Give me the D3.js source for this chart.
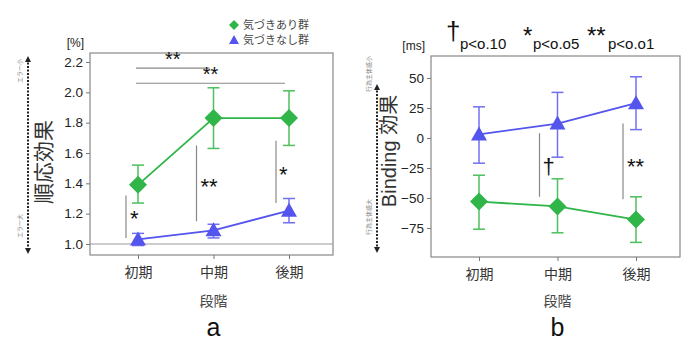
<!DOCTYPE html>
<html lang="ja">
<head>
  <meta charset="UTF-8">
  <title>順応効果 / Binding効果</title>
  <script src="https://d3js.org/d3.v7.min.js"></script>
  <style>
    * { margin: 0; padding: 0; box-sizing: border-box; }
    body { background: #fff; }
    text { font-family: "Liberation Sans", Arial, "Noto Sans CJK JP", sans-serif; }
    .jp { font-family: "Noto Sans CJK JP", sans-serif; }
  </style>
</head>
<body>
  <div id="chart"></div>
  <script>
    // data
    const stages = ["初期", "中期", "後期"];
    const groups = ["気づきあり群", "気づきなし群"];

    const adaptTicks = [1.0, 1.2, 1.4, 1.6, 1.8, 2.0, 2.2];
    const adaptAware = [1.39, 1.83, 1.83];
    const adaptAwareLo = [1.27, 1.63, 1.65];
    const adaptAwareHi = [1.52, 2.03, 2.01];
    const adaptUnaware = [1.03, 1.09, 1.22];
    const adaptUnawareLo = [0.99, 1.04, 1.14];
    const adaptUnawareHi = [1.07, 1.13, 1.30];

    const bindTicks = [-75, -50, -25, 0, 25, 50];
    const bindAware = [-53, -57, -68];
    const bindAwareLo = [-76, -79, -87];
    const bindAwareHi = [-31, -34, -49];
    const bindUnaware = [3, 12, 29];
    const bindUnawareLo = [-21, -16, 7];
    const bindUnawareHi = [26, 38, 51];

    const green = "#2fb548", greenBar = "#4cbf5e";
    const blue = "#5454ee", blueBar = "#7070f0";

    const svg = d3.select("#chart").append("svg")
      .attr("width", 700).attr("height", 350);

    svg.append("defs").append("marker")
      .attr("id", "arr")
      .attr("viewBox", "0 0 10 10")
      .attr("refX", 5).attr("refY", 5)
      .attr("markerWidth", 3).attr("markerHeight", 3)
      .attr("orient", "auto-start-reverse")
      .append("path")
      .attr("d", "M0,0 L10,5 L0,10 Z")
      .attr("fill", "#222");

    const diamond = "M0,-9 L9,0 L0,9 L-9,0 Z";
    const triangle = "M0,-8 L8,6 L-8,6 Z";

    function panel(cfg) {
      const g = svg.append("g");
      const x = d3.scalePoint().domain(stages).range([cfg.x0 + 48, cfg.x1 - 44]);
      const y = d3.scaleLinear().domain(cfg.domain).range(cfg.range);

      // frame
      g.append("rect")
        .attr("x", cfg.x0).attr("y", cfg.top)
        .attr("width", cfg.x1 - cfg.x0).attr("height", cfg.bottom - cfg.top)
        .attr("fill", "none").attr("stroke", "#888").attr("stroke-width", 1.2);

      const ya = g.append("g").attr("transform", `translate(${cfg.x0},0)`)
        .call(d3.axisLeft(y).tickValues(cfg.ticks).tickSize(4).tickFormat(cfg.fmt));
      ya.select(".domain").remove();
      ya.selectAll("line").attr("stroke", "#777");
      ya.selectAll("text").attr("font-size", 13.5).attr("fill", "#222")
        .style("font-family", "Liberation Sans, Arial, sans-serif");

      const xa = g.append("g").attr("transform", `translate(0,${cfg.bottom})`)
        .call(d3.axisBottom(x).tickSize(4).tickPadding(8));
      xa.select(".domain").remove();
      xa.selectAll("line").attr("stroke", "#777");
      xa.selectAll("text").attr("font-size", 14).attr("fill", "#333")
        .attr("class", "jp").style("font-family", "Noto Sans CJK JP, sans-serif");

      if (cfg.refLine !== undefined) {
        g.append("line")
          .attr("x1", cfg.x0).attr("x2", cfg.x1)
          .attr("y1", y(cfg.refLine)).attr("y2", y(cfg.refLine))
          .attr("stroke", "#999").attr("stroke-width", 1.2);
      }

      // unit
      g.append("text").attr("x", cfg.x0 - 6).attr("y", cfg.top - 6)
        .attr("text-anchor", "end").attr("font-size", 12).attr("fill", "#222")
        .text(cfg.unit);

      // x title + panel letter
      const cx = x("中期");
      g.append("text").attr("class", "jp").attr("x", cx).attr("y", 306)
        .attr("text-anchor", "middle").attr("font-size", 14).attr("fill", "#444")
        .text("段階");
      g.append("text").attr("x", cx).attr("y", 336)
        .attr("text-anchor", "middle").attr("font-size", 25).attr("fill", "#111")
        .text(cfg.letter);

      // y title
      g.append("text")
        .attr("transform", `translate(${cfg.titleX},${cfg.titleY}) rotate(-90)`)
        .attr("text-anchor", "middle").attr("font-size", cfg.titleSize).attr("fill", "#333")
        .style("font-family", "Liberation Sans, Arial, Noto Sans CJK JP, sans-serif")
        .text(cfg.title);

      // dotted arrow
      g.append("line")
        .attr("x1", cfg.arrowX).attr("x2", cfg.arrowX)
        .attr("y1", cfg.arrowTop).attr("y2", cfg.arrowBottom)
        .attr("stroke", "#222").attr("stroke-width", 2)
        .attr("stroke-dasharray", "2,1.5")
        .attr("marker-start", "url(#arr)")
        .attr("marker-end", "url(#arr)");
      cfg.arrowLabels.forEach(d => {
        g.append("text").attr("class", "jp")
          .attr("transform", `translate(${cfg.arrowX - 6},${d.y}) rotate(-90)`)
          .attr("text-anchor", "middle").attr("font-size", 6).attr("fill", "#888")
          .text(d.t);
      });

      // series
      const series = [
        { v: cfg.aware, lo: cfg.awareLo, hi: cfg.awareHi, c: green, cb: greenBar, sym: diamond },
        { v: cfg.unaware, lo: cfg.unawareLo, hi: cfg.unawareHi, c: blue, cb: blueBar, sym: triangle }
      ];
      series.forEach(s => {
        const sg = g.append("g");
        stages.forEach((st, i) => {
          const px = x(st);
          sg.append("line").attr("x1", px).attr("x2", px)
            .attr("y1", y(s.lo[i])).attr("y2", y(s.hi[i]))
            .attr("stroke", s.cb).attr("stroke-width", 1.5);
          [s.lo[i], s.hi[i]].forEach(v => {
            sg.append("line").attr("x1", px - 6).attr("x2", px + 6)
              .attr("y1", y(v)).attr("y2", y(v))
              .attr("stroke", s.cb).attr("stroke-width", 1.5);
          });
        });
        sg.append("path")
          .attr("d", d3.line().x((d, i) => x(stages[i])).y(d => y(d))(s.v))
          .attr("fill", "none").attr("stroke", s.c).attr("stroke-width", 1.8);
        sg.selectAll(".pt").data(s.v).enter().append("path")
          .attr("transform", (d, i) => `translate(${x(stages[i])},${y(d)})`)
          .attr("d", s.sym).attr("fill", s.c);
      });

      // significance marks
      cfg.vmarks.forEach(m => {
        const px = x(stages[m.i]) + m.dx;
        g.append("line").attr("x1", px).attr("x2", px)
          .attr("y1", y(m.from)).attr("y2", y(m.to))
          .attr("stroke", "#888").attr("stroke-width", 1.2);
        g.append("text").attr("x", px + m.tx).attr("y", y(m.ty))
          .attr("font-size", m.size).attr("fill", "#111")
          .text(m.t);
      });
      (cfg.hmarks || []).forEach(m => {
        const x1 = x(stages[m.a]) - 2, x2 = x(stages[m.b]) - 4;
        g.append("line").attr("x1", x1).attr("x2", x2)
          .attr("y1", y(m.at)).attr("y2", y(m.at))
          .attr("stroke", "#888").attr("stroke-width", 1.2);
        g.append("text").attr("x", (x1 + x2) / 2).attr("y", y(m.at) - 2)
          .attr("text-anchor", "middle").attr("font-size", 20).attr("fill", "#111")
          .text("**");
      });
      return { x, y };
    }

    panel({
      x0: 90, x1: 333, top: 53, bottom: 255,
      domain: [1.0, 2.2], range: [244, 62],
      ticks: adaptTicks, fmt: d3.format(".1f"),
      refLine: 1.0, unit: "[%]", letter: "a", title: "順応効果", titleSize: 21,
      titleX: 51, titleY: 162,
      arrowX: 28, arrowTop: 59, arrowBottom: 251,
      arrowLabels: [{ t: "エラー小", y: 71 }, { t: "エラー大", y: 226 }],
      aware: adaptAware, awareLo: adaptAwareLo, awareHi: adaptAwareHi,
      unaware: adaptUnaware, unawareLo: adaptUnawareLo, unawareHi: adaptUnawareHi,
      vmarks: [
        { i: 0, dx: -12, from: 1.04, to: 1.32, t: "*", tx: 4, ty: 1.12, size: 22 },
        { i: 1, dx: -17, from: 1.15, to: 1.65, t: "**", tx: 4, ty: 1.33, size: 22 },
        { i: 2, dx: -13, from: 1.27, to: 1.68, t: "*", tx: 3, ty: 1.41, size: 22 }
      ],
      hmarks: [{ a: 0, b: 1, at: 2.16 }, { a: 0, b: 2, at: 2.06 }]
    });

    panel({
      x0: 431, x1: 680, top: 56, bottom: 257,
      domain: [-75, 50], range: [228, 78],
      ticks: bindTicks, fmt: d3.format("d"),
      unit: "[ms]", letter: "b", title: "Binding 効果", titleSize: 20,
      titleX: 396, titleY: 151,
      arrowX: 377, arrowTop: 87, arrowBottom: 250,
      arrowLabels: [{ t: "行為主体感小", y: 74 + 0 }, { t: "行為主体感大", y: 217 }],
      aware: bindAware, awareLo: bindAwareLo, awareHi: bindAwareHi,
      unaware: bindUnaware, unawareLo: bindUnawareLo, unawareHi: bindUnawareHi,
      vmarks: [
        { i: 1, dx: -18, from: 4, to: -49, t: "†", tx: 3, ty: -30, size: 22 },
        { i: 2, dx: -13, from: 12, to: -51, t: "**", tx: 4, ty: -30, size: 22 }
      ]
    });

    // legend
    const leg = svg.append("g");
    groups.forEach((gname, i) => {
      const ly = 25 + i * 15;
      leg.append("path")
        .attr("transform", `translate(234,${ly})`)
        .attr("d", i === 0 ? "M0,-5 L5,0 L0,5 L-5,0 Z" : "M0,-5 L5,4 L-5,4 Z")
        .attr("fill", i === 0 ? green : blue);
      leg.append("text").attr("class", "jp")
        .attr("x", 243).attr("y", ly + 4)
        .attr("font-size", 11).attr("fill", "#444")
        .text(gname);
    });

    // significance key
    const key = svg.append("g");
    [
      { s: "†", x: 446, size: 26, dy: 0, p: "p<o.10", px: 460 },
      { s: "*", x: 523, size: 24, dy: 4, p: "p<o.o5", px: 533 },
      { s: "**", x: 587, size: 24, dy: 4, p: "p<o.o1", px: 608 }
    ].forEach(d => {
      key.append("text").attr("x", d.x).attr("y", 40 + d.dy)
        .attr("font-size", d.size).attr("fill", "#111").text(d.s);
      key.append("text").attr("x", d.px).attr("y", 49)
        .attr("font-size", 15).attr("fill", "#111").text(d.p);
    });
  </script>
</body>
</html>
